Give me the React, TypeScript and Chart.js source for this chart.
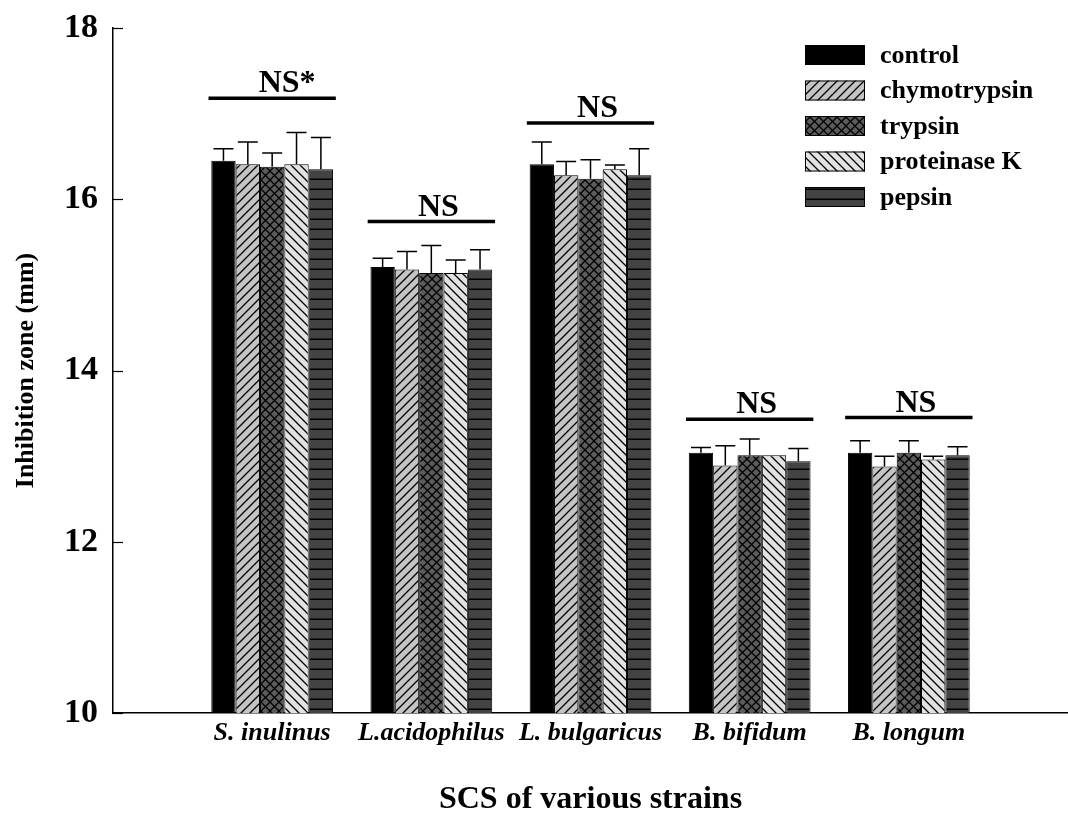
import React, { useEffect, useRef } from "react";
import { Chart, registerables } from "chart.js";

Chart.register(...registerables);

const categories = ["S. inulinus", "L.acidophilus", "L. bulgaricus", "B. bifidum", "B. longum"];
const seriesNames = ["control", "chymotrypsin", "trypsin", "proteinase K", "pepsin"];

const controlMeans = [16.45, 15.21, 16.41, 13.04, 13.04];
const chymotrypsinMeans = [16.41, 15.18, 16.28, 12.89, 12.88];
const trypsinMeans = [16.38, 15.14, 16.24, 13.01, 13.04];
const proteinaseKMeans = [16.41, 15.14, 16.35, 13.01, 12.96];
const pepsinMeans = [16.35, 15.18, 16.28, 12.94, 13.01];

const controlErr = [0.14, 0.1, 0.26, 0.06, 0.14];
const chymotrypsinErr = [0.26, 0.21, 0.16, 0.23, 0.12];
const trypsinErr = [0.16, 0.32, 0.22, 0.19, 0.14];
const proteinaseKErr = [0.37, 0.15, 0.05, 0, 0.04];
const pepsinErr = [0.37, 0.23, 0.31, 0.15, 0.1];

const sigLabels = ["NS*", "NS", "NS", "NS", "NS"];
const sigLevels = [17.18, 15.74, 16.89, 13.43, 13.45];

const yTicks = [10, 12, 14, 16, 18];

const SERIF = "'Liberation Serif', 'Times New Roman', serif";

function makePattern(kind: string): CanvasPattern | string {
  const c = document.createElement("canvas");
  const s = kind === "pepsin" ? 10 : 9;
  c.width = s;
  c.height = s;
  const g = c.getContext("2d")!;
  const bg: Record<string, string> = {
    chymo: "#c4c4c4",
    trypsin: "#5c5c5c",
    protk: "#e2e2e2",
    pepsin: "#434343",
  };
  g.fillStyle = bg[kind];
  g.fillRect(0, 0, s, s);
  g.strokeStyle = "#000";
  g.lineWidth = 1.3;
  const fwd = () => {
    g.beginPath();
    g.moveTo(-1, s + 1);
    g.lineTo(s + 1, -1);
    g.moveTo(-1, 1);
    g.lineTo(1, -1);
    g.moveTo(s - 1, s + 1);
    g.lineTo(s + 1, s - 1);
    g.stroke();
  };
  const back = () => {
    g.beginPath();
    g.moveTo(-1, -1);
    g.lineTo(s + 1, s + 1);
    g.moveTo(s - 1, -1);
    g.lineTo(s + 1, 1);
    g.moveTo(-1, s - 1);
    g.lineTo(1, s + 1);
    g.stroke();
  };
  if (kind === "chymo") fwd();
  if (kind === "protk") back();
  if (kind === "trypsin") {
    fwd();
    back();
  }
  if (kind === "pepsin") {
    g.lineWidth = 1.5;
    g.beginPath();
    g.moveTo(0, s - 0.75);
    g.lineTo(s, s - 0.75);
    g.stroke();
  }
  const p = g.createPattern(c, "repeat");
  return p || bg[kind];
}

export default function App() {
  const ref = useRef<HTMLCanvasElement>(null);

  useEffect(() => {
    if (!ref.current) return;
    const fills = [
      "#000000",
      makePattern("chymo"),
      makePattern("trypsin"),
      makePattern("protk"),
      makePattern("pepsin"),
    ];
    const means = [controlMeans, chymotrypsinMeans, trypsinMeans, proteinaseKMeans, pepsinMeans];
    const errs = [controlErr, chymotrypsinErr, trypsinErr, proteinaseKErr, pepsinErr];
    const labels = ["", ...categories, ""];

    const extras = {
      id: "extras",
      afterDatasetsDraw(chart: any) {
        const ctx = chart.ctx;
        const y = chart.scales.y;
        const x = chart.scales.x;
        const area = chart.chartArea;
        ctx.save();
        // error bars
        ctx.strokeStyle = "#000";
        ctx.lineWidth = 1.5;
        means.forEach((m, di) => {
          const meta = chart.getDatasetMeta(di);
          m.forEach((v, i) => {
            const e = errs[di][i];
            if (!e) return;
            const el = meta.data[i + 1];
            const top = y.getPixelForValue(v + e);
            const base = y.getPixelForValue(v);
            ctx.beginPath();
            ctx.moveTo(el.x, base);
            ctx.lineTo(el.x, top);
            ctx.moveTo(el.x - 10, top);
            ctx.lineTo(el.x + 10, top);
            ctx.stroke();
          });
        });
        // significance lines
        const w = x.getPixelForValue(2) - x.getPixelForValue(1);
        ctx.font = `bold 32px ${SERIF}`;
        const nsW = ctx.measureText("NS").width;
        sigLevels.forEach((lv, i) => {
          const cx = x.getPixelForValue(i + 1);
          const py = y.getPixelForValue(lv);
          ctx.lineWidth = 3.5;
          ctx.beginPath();
          ctx.moveTo(cx - w * 0.4, py);
          ctx.lineTo(cx + w * 0.4, py);
          ctx.stroke();
          ctx.fillStyle = "#000";
          ctx.textAlign = "left";
          ctx.textBaseline = "alphabetic";
          ctx.fillText(sigLabels[i], cx + 7 - nsW / 2, py - 6);
        });
        // inward y ticks
        ctx.lineWidth = 1.2;
        yTicks.forEach((t) => {
          const py = Math.round(y.getPixelForValue(t)) + 0.5;
          ctx.beginPath();
          ctx.moveTo(area.left, py);
          ctx.lineTo(area.left + 10, py);
          ctx.stroke();
        });
        // legend
        seriesNames.forEach((name, i) => {
          const cy = 55 + i * 35.5;
          ctx.fillStyle = fills[i] as any;
          ctx.fillRect(805, cy - 10, 60, 20);
          ctx.strokeStyle = "#000";
          ctx.lineWidth = 1;
          ctx.strokeRect(805.5, cy - 9.5, 59, 19);
          ctx.fillStyle = "#000";
          ctx.font = `bold 26px ${SERIF}`;
          ctx.textAlign = "left";
          ctx.textBaseline = "middle";
          ctx.fillText(name, 880, cy + 1);
        });
        ctx.restore();
      },
    };

    const chart = new Chart(ref.current, {
      type: "bar",
      data: {
        labels,
        datasets: means.map((m, i) => ({
          label: seriesNames[i],
          data: [null, ...m, null],
          backgroundColor: fills[i] as any,
          borderColor: "#000",
          borderWidth: 1,
          borderSkipped: "bottom",
          barPercentage: 1,
          categoryPercentage: 0.765,
        })),
      },
      options: {
        responsive: false,
        animation: false,
        layout: { padding: { top: 28, right: -12, left: 0, bottom: 0 } },
        plugins: {
          legend: { display: false },
          tooltip: { enabled: false },
        },
        scales: {
          x: {
            offset: false,
            grid: { display: false, drawTicks: false },
            border: { display: true, color: "#000", width: 1.5 },
            ticks: {
              color: "#000",
              padding: 5,
              maxRotation: 0,
              autoSkip: false,
              font: { family: SERIF, size: 26, weight: "bold", style: "italic" },
            },
            title: {
              display: true,
              text: "SCS of various strains",
              color: "#000",
              font: { family: SERIF, size: 32, weight: "bold", lineHeight: 1 },
              padding: { top: 0, bottom: 0 },
            },
            afterFit(scale: any) {
              scale.height = 103;
              scale.paddingLeft = 0;
              scale.paddingRight = 0;
            },
          },
          y: {
            min: 10,
            max: 18,
            grid: { display: false, drawTicks: false },
            border: { display: true, color: "#000", width: 1.5 },
            afterBuildTicks(scale: any) {
              scale.ticks = yTicks.map((v) => ({ value: v }));
            },
            ticks: {
              color: "#000",
              padding: 15,
              font: { family: SERIF, size: 34, weight: "bold" },
            },
            title: {
              display: true,
              text: "Inhibition zone (mm)",
              color: "#000",
              font: { family: SERIF, size: 26, weight: "bold" },
              padding: { top: 11, bottom: 0 },
            },
            afterFit(scale: any) {
              scale.width = 113;
              scale.paddingTop = 0;
              scale.paddingBottom = 0;
            },
          },
        },
      },
      plugins: [extras],
    });
    return () => chart.destroy();
  }, []);

  return (
    <div style={{ position: "absolute", left: 0, top: 0, width: 1068, height: 816, background: "#fff" }}>
      <canvas ref={ref} width={1068} height={816} />
    </div>
  );
}
